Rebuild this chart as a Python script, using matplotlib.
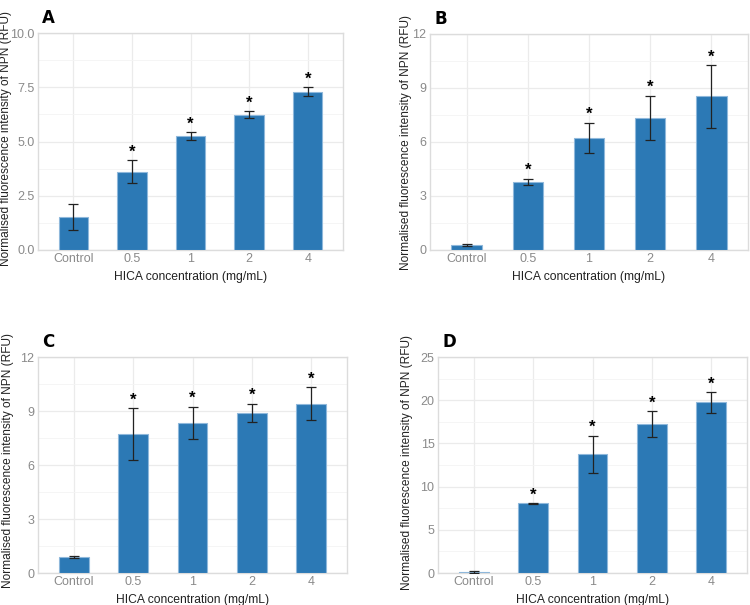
import numpy as np
import matplotlib.pyplot as plt

plt.rcParams['font.family'] = ['Liberation Sans', 'DejaVu Sans']

categories = ['Control', '0.5', '1', '2', '4']

# panel A
a_mean = [1.51, 3.60, 5.24, 6.23, 7.29]
a_err = [0.60, 0.53, 0.18, 0.16, 0.21]
# panel B
b_mean = [0.30, 3.80, 6.23, 7.35, 8.53]
b_err = [0.05, 0.17, 0.84, 1.22, 1.73]
# panel C
c_mean = [0.89, 7.72, 8.35, 8.89, 9.41]
c_err = [0.05, 1.45, 0.88, 0.51, 0.92]
# panel D
d_mean = [0.12, 8.05, 13.74, 17.26, 19.74]
d_err = [0.15, 0.06, 2.17, 1.47, 1.20]

stars = ['', '*', '*', '*', '*']

# label, data, ylim, ticks, axes box in px (left, top, right, bottom), y-label x/y in px
panels = [
    ('A', a_mean, a_err, 10.0, [0, 2.5, 5.0, 7.5, 10.0], ['0.0', '2.5', '5.0', '7.5', '10.0'],
     [38, 33, 343, 250], (6, 138)),
    ('B', b_mean, b_err, 12, [0, 3, 6, 9, 12], ['0', '3', '6', '9', '12'],
     [430, 34, 748, 250], (406, 142)),
    ('C', c_mean, c_err, 12, [0, 3, 6, 9, 12], ['0', '3', '6', '9', '12'],
     [38, 357, 347, 573], (8, 461)),
    ('D', d_mean, d_err, 25, [0, 5, 10, 15, 20, 25], ['0', '5', '10', '15', '20', '25'],
     [438, 357, 747, 573], (407, 463)),
]

W, H = 750, 605
fig = plt.figure(figsize=(7.5, 6.05), dpi=100)

bar_col = '#2c79b5'
grid_col = '#ebebeb'

for label, mean, err, ymax, ticks, tlabels, (x0, y0, x1, y1), (lx, ly) in panels:
    ax = fig.add_axes([x0 / W, (H - y1) / H, (x1 - x0) / W, (y1 - y0) / H])
    x = np.arange(len(categories))
    ax.bar(x, mean, width=0.5, color=bar_col, edgecolor='#8fb8db', linewidth=0.8, zorder=3)
    ax.errorbar(x, mean, yerr=err, fmt='none', ecolor='#222222', elinewidth=0.9,
                capsize=3.5, capthick=0.9, zorder=4)
    step = ticks[1] - ticks[0]
    for i, s in enumerate(stars):
        if s:
            ax.text(x[i], mean[i] + err[i] + ymax * 0.003, s, ha='center', va='bottom',
                    fontsize=12, fontweight='bold', zorder=5)
    ax.set_xlim(-0.6, 4.6)
    ax.set_ylim(0, ymax)
    ax.set_yticks(ticks)
    ax.set_yticklabels(tlabels)
    ax.set_yticks([t + step / 2 for t in ticks[:-1]], minor=True)
    ax.set_xticks(x)
    ax.set_xticklabels(categories)
    ax.tick_params(axis='both', which='both', length=0, labelsize=9, colors='#8a8a8a', pad=2.5)
    ax.grid(True, which='major', color=grid_col, linewidth=0.9, zorder=0)
    ax.grid(True, which='minor', axis='y', color='#f4f4f4', linewidth=0.6, zorder=0)
    for sp in ax.spines.values():
        sp.set_color('#dcdcdc')
        sp.set_linewidth(1.0)
    ax.set_axisbelow(True)
    ax.set_xlabel('HICA concentration (mg/mL)', fontsize=8.7, color='#222222', labelpad=4)
    fig.text(lx / W, 1 - ly / H, 'Normalised fluorescence intensity of NPN (RFU)',
             fontsize=8.6, color='#222222', rotation=90, ha='center', va='center')
    fig.text((x0 + 4) / W, 1 - (y0 - 15) / H, label, fontsize=12, fontweight='bold',
             ha='left', va='center', family=['Liberation Sans Narrow', 'DejaVu Sans'])

fig.savefig('out.png', dpi=100, facecolor='white')
